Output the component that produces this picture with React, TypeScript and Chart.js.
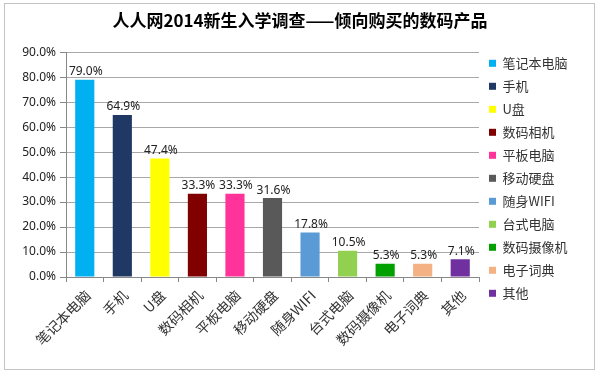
import React, { useEffect, useRef } from "react";
import { Chart, registerables } from "chart.js";

Chart.register(...registerables);

const titleText = "人人网2014新生入学调查——倾向购买的数码产品";
const categories = ["笔记本电脑", "手机", "U盘", "数码相机", "平板电脑", "移动硬盘", "随身WIFI", "台式电脑", "数码摄像机", "电子词典", "其他"];
const values = [79.0, 64.9, 47.4, 33.3, 33.3, 31.6, 17.8, 10.5, 5.3, 5.3, 7.1];
const colors = ["#00B0F0", "#1F3864", "#FFFF00", "#800000", "#FF3399", "#595959", "#5B9BD5", "#92D050", "#00A000", "#F4B183", "#7030A0"];
const yMin = 0;
const yMax = 90;
const yStep = 10;

const CJK = "'Noto Sans CJK SC', 'Noto Sans', sans-serif";
const LATIN = "'Noto Sans', 'Noto Sans CJK SC', sans-serif";

const framePlugin = {
  id: "frame",
  beforeDraw(chart: any) {
    const { ctx, width, height } = chart;
    ctx.save();
    ctx.fillStyle = "#ffffff";
    ctx.fillRect(0, 0, width, height);
    ctx.restore();
  },
  afterDraw(chart: any) {
    const { ctx } = chart;
    ctx.save();
    ctx.strokeStyle = "#c4c4c4";
    ctx.lineWidth = 1;
    ctx.strokeRect(4.5, 3.5, 590, 366);
    ctx.restore();
  },
};

const legendWidthPlugin = {
  id: "legendWidth",
  beforeLayout(chart: any) {
    const lg = chart.legend;
    if (lg && !lg.__patched) {
      const orig = lg.fit;
      lg.fit = function () {
        orig.call(this);
        this.width = 121;
      };
      lg.__patched = true;
    }
  },
};

const dataLabelPlugin = {
  id: "dataLabels",
  afterDatasetsDraw(chart: any) {
    const { ctx } = chart;
    const meta = chart.getDatasetMeta(0);
    ctx.save();
    ctx.font = `12px ${LATIN}`;
    ctx.fillStyle = "#222222";
    ctx.textAlign = "center";
    ctx.textBaseline = "alphabetic";
    meta.data.forEach((bar: any, i: number) => {
      ctx.fillText(values[i].toFixed(1) + "%", bar.x + 1, bar.y - 4.5);
    });
    ctx.restore();
  },
};

export default function App() {
  const ref = useRef<HTMLCanvasElement | null>(null);
  useEffect(() => {
    if (!ref.current) return;
    const chart = new Chart(ref.current, {
      type: "bar",
      data: {
        labels: categories,
        datasets: [
          {
            data: values,
            backgroundColor: colors,
            borderWidth: 0,
            barPercentage: 0.51,
            categoryPercentage: 1,
            xAxisID: "x",
            yAxisID: "y",
          },
        ],
      },
      options: {
        responsive: false,
        animation: false,
        layout: { padding: 0 },
        plugins: {
          title: {
            display: true,
            text: titleText,
            color: "#000000",
            font: { family: CJK, size: 17, weight: "bold" },
            padding: { top: 10, bottom: 15 },
          },
          legend: {
            display: true,
            position: "right",
            align: "start",
            title: { display: true, text: "", font: { size: 10 }, padding: { top: 34.8, bottom: 0 } },
            labels: {
              boxWidth: 7,
              boxHeight: 7,
              padding: 10,
              color: "#333333",
              font: { family: CJK, size: 13 },
              generateLabels: () =>
                categories.map((c, i) => ({
                  text: c,
                  fillStyle: colors[i],
                  strokeStyle: colors[i],
                  lineWidth: 0,
                  hidden: false,
                  index: i,
                  datasetIndex: 0,
                  fontColor: "#333333",
                })),
            },
          },
          tooltip: { enabled: false },
        },
        scales: {
          x: {
            type: "category",
            position: "bottom",
            offset: true,
            afterFit: (s: any) => {
              s.height = 98;
            },
            grid: { display: true, drawOnChartArea: false, drawTicks: true, tickLength: 5, color: "#888888", offset: true },
            border: { display: true, color: "#888888" },
            ticks: {
              autoSkip: false,
              minRotation: 45,
              maxRotation: 45,
              padding: 5,
              labelOffset: 3,
              color: "#333333",
              font: { family: CJK, size: 14 },
            },
          },
          xTop: {
            type: "category",
            position: "top",
            display: true,
            afterFit: (s: any) => {
              s.height = 6.8;
            },
            grid: { display: false, drawTicks: false },
            border: { display: false },
            ticks: { display: false },
          },
          y: {
            type: "linear",
            position: "left",
            min: yMin,
            max: yMax,
            afterFit: (s: any) => {
              s.width = 66;
            },
            grid: { color: "#a8a8a8", tickLength: 6, tickColor: "#888888" },
            border: { display: true, color: "#888888" },
            ticks: {
              stepSize: yStep,
              padding: 4,
              color: "#222222",
              font: { family: LATIN, size: 12 },
              callback: (v: any) => Number(v).toFixed(1) + "%",
            },
          },
        },
      } as any,
      plugins: [framePlugin, legendWidthPlugin, dataLabelPlugin],
    });
    return () => chart.destroy();
  }, []);
  return (
    <div style={{ position: "absolute", left: 0, top: 0, width: 600, height: 375, background: "#fff" }}>
      <canvas ref={ref} width={600} height={375} style={{ display: "block" }} />
    </div>
  );
}
